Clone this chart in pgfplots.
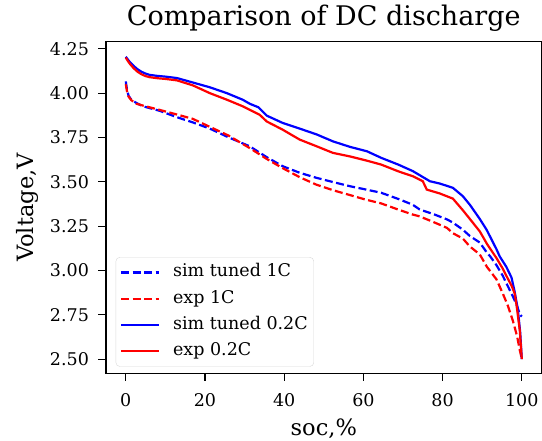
\documentclass[border=0pt]{standalone}
\usepackage{fontspec}
\setmainfont{DejaVu Serif}
\usepackage{pgfplots}
\pgfplotsset{compat=1.18}
\begin{document}
\begin{tikzpicture}
\begin{axis}[
  at={(0,0)}, anchor=south west,
  scale only axis,
  width=435.6pt, height=331.6pt,
  xmin=-5, xmax=105,
  ymin=2.42, ymax=4.29,
  xtick={0,20,40,60,80,100},
  ytick={2.5,2.75,3.0,3.25,3.5,3.75,4.0,4.25},
  /pgf/number format/assume math mode=true,
  tick align=outside,
  major tick length=7.5pt,
  every tick/.style={black, line width=1.1pt},
  axis line style={black, line width=1.1pt},
  xtick pos=bottom, ytick pos=left,
  tick label style={font=\fontsize{17.5}{21}\selectfont},
  xticklabel style={yshift=-9pt},
  yticklabel style={/pgf/number format/fixed, /pgf/number format/fixed zerofill,
    /pgf/number format/precision=2, xshift=-6pt},
  xlabel={soc,\%},
  ylabel={Voltage,V},
  xlabel style={font=\fontsize{22.5}{27}\selectfont, at={(rel axis cs:0.5,0)}, anchor=center, yshift=-55pt},
  ylabel style={font=\fontsize{22.5}{27}\selectfont, at={(rel axis cs:0,0.5)}, anchor=center, yshift=79pt},
  title={Comparison of DC discharge},
  title style={font=\fontsize{27}{32}\selectfont, at={(rel axis cs:0.5,1)}, anchor=center, yshift=17pt},
  legend cell align=left,
  legend style={at={(0.0223,0.0199)}, anchor=south west,
    font=\fontsize{17.5}{21}\selectfont,
    draw=black!15, fill=white, rounded corners=4pt,
    inner xsep=4pt, inner ysep=2pt, row sep=0pt,
    nodes={text height=13pt, text depth=4pt, inner ysep=4.65pt},
    /tikz/every odd column/.append style={column sep=11pt}},
  legend image code/.code={\draw[#1] (0pt,0pt) -- (38pt,0pt);},
]
\addplot[blue, line width=2.2pt, dash pattern=on 8pt off 3.5pt] coordinates {
(0,4.066) (0.3,4.02) (0.7,3.985) (1.4,3.963) (2.7,3.944) (4.3,3.926) (8.6,3.90)
(12.8,3.865) (16.9,3.835) (21.2,3.80) (26,3.75) (31.3,3.70) (35.5,3.64) (39.6,3.588)
(44,3.55) (48.2,3.522) (52.4,3.498) (56.6,3.475) (60.5,3.457) (64.5,3.438) (69.2,3.40)
(72.5,3.37) (74.2,3.344) (78,3.315) (81.1,3.288) (82.6,3.27) (85.1,3.23) (86.9,3.194)
(89.4,3.157) (91.2,3.10) (92,3.08) (93.6,3.03) (95.2,2.97) (96.5,2.91) (97.7,2.856)
(98.8,2.80) (99.5,2.752) (100,2.74)
};
\addlegendentry{sim tuned 1C}
\addplot[red, line width=2.2pt, dash pattern=on 8pt off 3.5pt] coordinates {
(0,4.05) (0.3,4.01) (0.7,3.98) (1.4,3.96) (2.7,3.94) (4.3,3.93) (8.6,3.905)
(12.8,3.88) (16.9,3.855) (21.2,3.81) (26,3.76) (31.3,3.69) (35.5,3.63) (39.6,3.577)
(44,3.525) (48.2,3.483) (52.4,3.452) (56.6,3.425) (60.5,3.40) (64.5,3.378) (69.2,3.34)
(72.5,3.315) (74.2,3.305) (78,3.27) (81.1,3.24) (82.6,3.21) (85.1,3.18) (86.9,3.135)
(89.4,3.09) (91.2,3.02) (93.6,2.95) (95.2,2.87) (96.5,2.80) (97.7,2.72) (98.8,2.63)
(99.5,2.55) (100,2.50)
};
\addlegendentry{exp 1C}
\addplot[blue, line width=2.2pt] coordinates {
(0,4.205) (0.5,4.19) (1,4.176) (2,4.153) (3,4.134) (4,4.12) (5,4.11) (6,4.103)
(8,4.097) (10,4.093) (12.9,4.085)
(16.9,4.06) (21.2,4.033) (25.5,4.00) (29.5,3.963) (31.3,3.94) (33.5,3.92) (35.6,3.873)
(39.6,3.832) (43.9,3.80) (48.2,3.767) (52.3,3.728) (56.6,3.697) (60.9,3.672)
(64.5,3.635) (68.8,3.597) (72.5,3.56) (76.8,3.503) (79.3,3.49) (82.6,3.466)
(85.1,3.419) (86.9,3.37) (89.4,3.29) (91.1,3.23) (93.6,3.12) (94.4,3.08) (96.1,3.02)
(97.4,2.96) (98.2,2.88) (99.0,2.78) (99.6,2.65) (100,2.50)
};
\addlegendentry{sim tuned 0.2C}
\addplot[red, line width=2.2pt] coordinates {
(0,4.20) (0.5,4.182) (1,4.166) (2,4.14) (3,4.12) (4,4.106) (5,4.096) (6,4.09)
(8,4.084) (10,4.08) (12.9,4.072)
(16.9,4.044) (21.2,4.00) (25.5,3.963) (29.5,3.926) (33.8,3.878) (35.6,3.84)
(39.6,3.794) (43.9,3.738) (48.2,3.70) (52.3,3.663) (56.6,3.643) (60.9,3.619)
(64.5,3.597) (68.8,3.559) (72.5,3.531) (75,3.503) (75.6,3.475) (76,3.456)
(79.3,3.434) (82.6,3.405) (85.1,3.34) (86.9,3.29) (89.4,3.22) (91.2,3.15)
(93.6,3.07) (95.2,3.01) (96.1,2.97) (97.5,2.91) (98.2,2.87) (98.7,2.80) (99.5,2.66)
(100,2.50)
};
\addlegendentry{exp 0.2C}
\end{axis}
\pgfresetboundingbox
\path (-106pt,-67.7pt) rectangle (436pt,373.3pt);
\end{tikzpicture}
\end{document}
